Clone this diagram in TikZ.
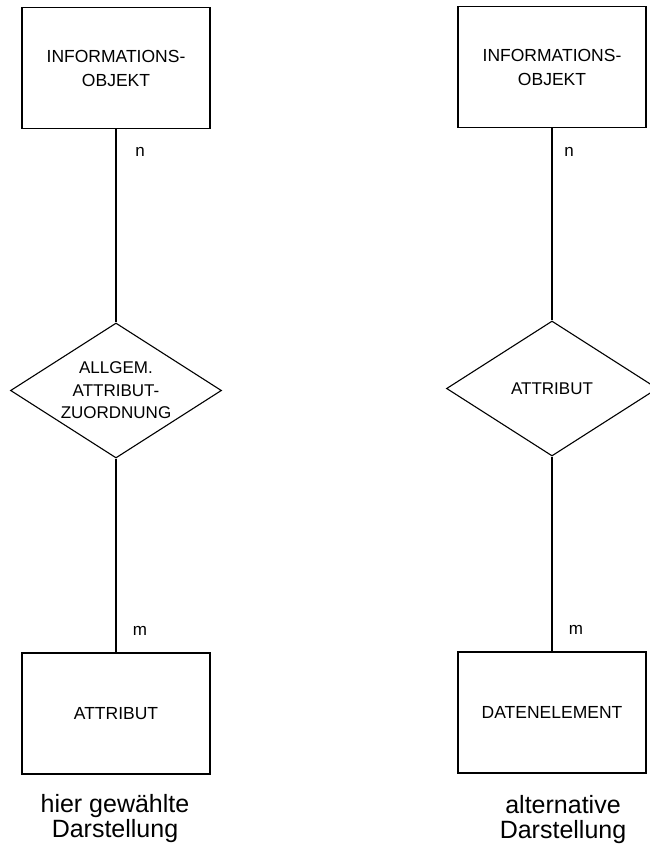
\documentclass[tikz,border=0pt]{standalone}
\usepackage{fontspec}
\setmainfont{Liberation Sans}
\usetikzlibrary{shapes.geometric}
\begin{document}
\begin{tikzpicture}[x=1pt,y=-1pt,
  entity/.style={draw, line width=1.1pt, rectangle, inner sep=0pt,
    minimum width=188pt, minimum height=121pt, align=center,
    font=\fontsize{17.5}{24}\selectfont},
  relation/.style={draw, line width=1.1pt, diamond, aspect=1.56, inner sep=0pt,
    minimum width=211pt, minimum height=135pt, align=center,
    font=\fontsize{17}{22.5}\selectfont},
  link/.style={line width=1.1pt},
  card/.style={inner sep=0pt, font=\fontsize{17}{17}\selectfont},
  caption/.style={align=center, inner sep=0pt, font=\fontsize{25}{25}\selectfont}]
  \useasboundingbox (0,0) rectangle (649,856);

  % left column: chosen representation
  \node[entity]   (lobj)  at (116,68)    {INFORMATIONS-\\OBJEKT};
  \node[relation] (lrel)  at (116,390.5) {ALLGEM.\\ATTRIBUT-\\ZUORDNUNG};
  \node[entity]   (latt)  at (116,713.5) {ATTRIBUT};
  \draw[link] (lobj.south) -- (lrel.north);
  \draw[link] (lrel.south) -- (latt.north);
  \node[card] (ln) at (140,152) {n};
  \node[card] (lm) at (140,631) {m};
  \node[caption] (lcap) at (115,819) {hier gewählte\\Darstellung};

  % right column: alternative representation
  \node[entity]   (robj)  at (552,67)    {INFORMATIONS-\\OBJEKT};
  \node[relation] (rrel)  at (552,388.5) {ATTRIBUT};
  \node[entity]   (rdat)  at (552,712.5) {DATENELEMENT};
  \draw[link] (robj.south) -- (rrel.north);
  \draw[link] (rrel.south) -- (rdat.north);
  \node[card] (rn) at (569,152) {n};
  \node[card] (rm) at (576,630) {m};
  \node[caption] (rcap) at (563,820) {alternative\\Darstellung};
\end{tikzpicture}
\end{document}
